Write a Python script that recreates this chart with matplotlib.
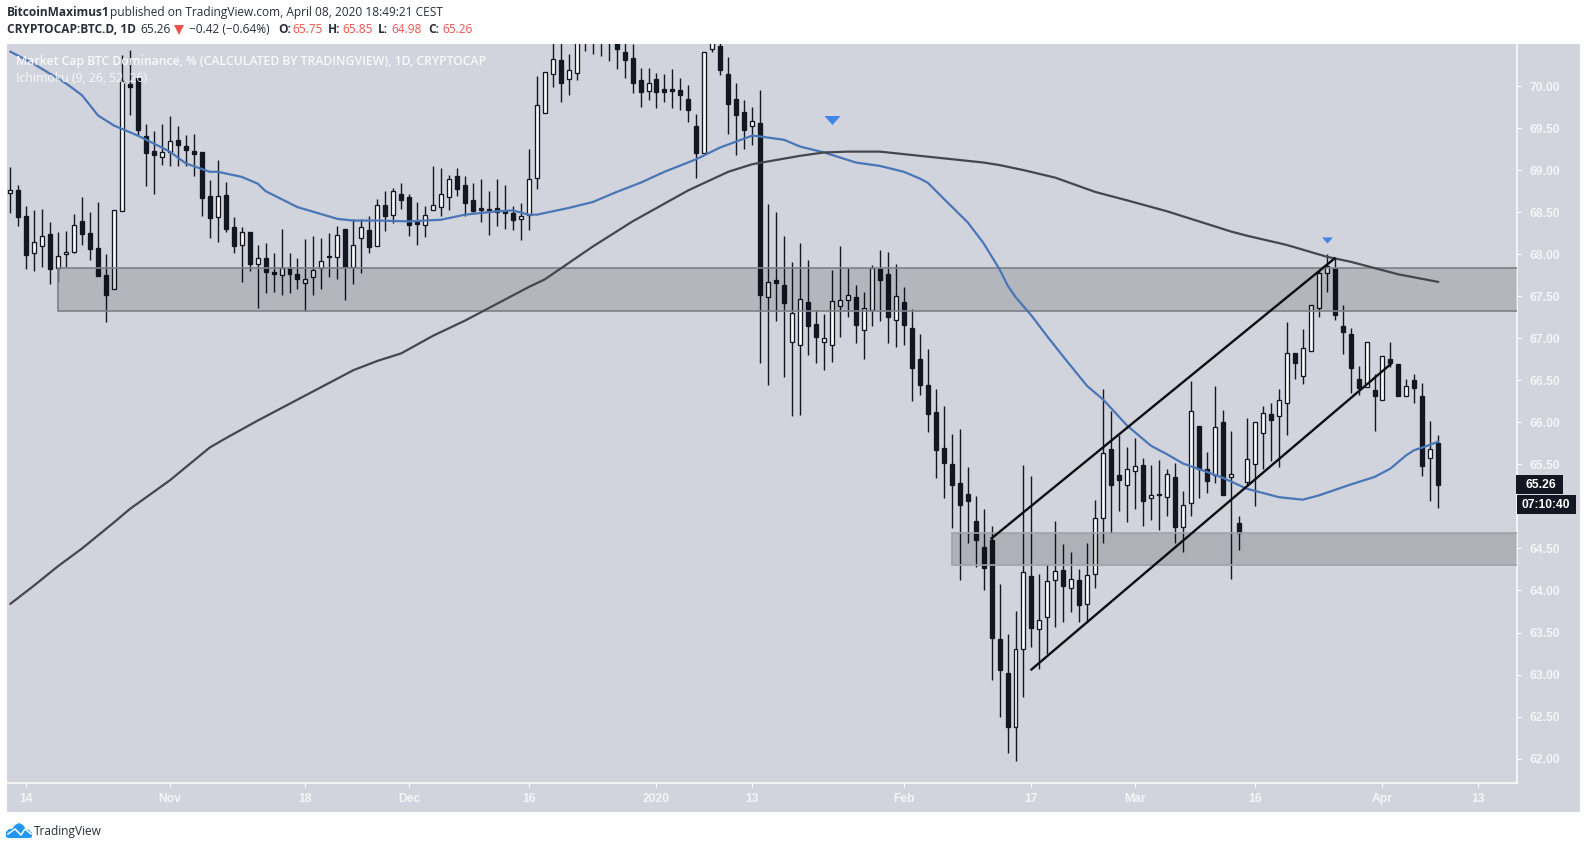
import matplotlib
matplotlib.use("Agg")
import matplotlib.pyplot as plt
import numpy as np
from matplotlib.patches import Rectangle, Polygon

highs = [69.04,68.82,68.57,68.53,68.54,68.38,68.26,68.27,68.48,68.68,
 68.50,68.62,68.00,68.53,70.37,70.43,70.10,69.55,69.46,69.55,
 69.64,69.52,69.42,69.43,69.21,68.88,69.12,68.86,68.44,68.32,
 68.26,68.11,68.13,68.01,68.30,68.02,67.95,68.18,68.22,68.19,
 68.25,68.34,68.30,68.42,68.42,68.46,68.66,68.75,68.79,68.85,
 68.72,68.62,68.57,69.05,69.02,68.94,69.02,68.93,68.85,68.89,
 68.75,68.90,68.82,68.57,68.61,69.25,70.12,70.17,70.60,70.65,
 70.38,70.80,70.90,70.85,70.80,70.80,70.70,70.60,70.50,70.22,
 70.22,70.15,70.14,70.20,70.10,70.01,69.67,70.41,70.65,70.60,
 70.34,70.04,69.83,69.75,69.95,68.60,68.50,68.22,67.91,68.13,
 67.93,67.34,67.29,67.81,68.10,67.84,67.63,67.55,67.87,68.05,
 68.03,67.88,67.61,67.35,67.05,66.87,66.40,66.20,65.86,65.92,
 65.47,65.12,64.97,64.77,64.08,63.48,63.75,65.49,65.36,64.20,
 64.31,64.83,64.55,64.46,64.25,64.57,65.08,66.40,66.14,65.85,
 65.71,65.81,65.58,65.49,65.55,65.45,65.52,65.18,66.49,65.96,
 65.65,66.43,66.15,65.90,64.89,66.05,66.00,66.19,66.23,66.40,
 67.19,66.82,67.11,67.40,67.81,68.00,67.96,67.40,67.12,66.67,
 66.95,66.58,66.79,66.96,66.69,66.52,66.58,66.47,66.01,65.85]
body_tops = [68.76,68.76,68.45,68.14,68.22,68.24,67.98,68.03,68.35,68.39,
 68.25,68.07,67.75,68.53,70.06,70.03,70.09,69.41,69.23,69.22,
 69.35,69.36,69.29,69.23,69.21,68.69,68.69,68.70,68.32,68.26,
 68.26,67.96,67.96,67.79,67.83,67.84,67.76,67.71,67.81,67.92,
 67.98,68.23,68.30,68.11,68.32,68.29,68.58,68.58,68.75,68.72,
 68.68,68.38,68.47,68.58,68.71,68.89,68.93,68.82,68.64,68.55,
 68.54,68.55,68.51,68.49,68.46,68.89,69.78,70.17,70.32,70.31,
 70.19,70.60,70.75,70.70,70.65,70.70,70.60,70.40,70.33,70.07,
 70.04,70.08,69.97,69.96,69.95,69.84,69.52,70.41,70.55,70.48,
 70.14,69.85,69.69,69.58,69.56,67.67,67.69,67.63,67.30,67.47,
 67.43,67.17,67.00,67.44,67.45,67.51,67.49,67.36,67.84,67.82,
 67.76,67.50,67.43,67.12,66.75,66.44,66.12,65.69,65.50,65.28,
 65.15,64.83,64.52,64.60,63.42,63.02,63.30,64.22,64.17,63.65,
 64.11,64.23,64.24,64.14,64.13,64.18,64.86,65.64,65.68,65.37,
 65.45,65.48,65.49,65.13,65.15,65.39,65.35,65.02,66.14,65.96,
 65.45,65.95,66.00,65.38,64.80,65.56,66.00,66.11,66.10,66.27,
 66.82,66.82,66.89,67.40,67.78,67.86,67.84,67.14,67.05,66.52,
 66.95,66.38,66.79,66.75,66.69,66.43,66.50,66.31,65.68,65.75]
body_bottoms = [68.73,68.44,67.99,68.02,68.10,67.82,67.83,68.00,68.03,68.24,
 68.06,67.74,67.52,67.59,68.51,69.99,69.48,69.20,69.18,69.16,
 69.21,69.30,69.24,69.19,68.67,68.43,68.44,68.30,68.10,68.11,
 67.88,67.88,67.79,67.76,67.75,67.77,67.71,67.66,67.73,67.83,
 67.97,67.97,67.85,67.85,68.19,68.09,68.10,68.45,68.47,68.64,
 68.35,68.36,68.35,68.52,68.56,68.68,68.78,68.61,68.51,68.53,
 68.53,68.50,68.49,68.41,68.42,68.47,68.91,69.68,70.14,70.04,
 70.08,70.16,70.60,70.55,70.55,70.55,70.44,70.31,70.04,69.93,
 69.94,69.93,69.93,69.94,69.89,69.71,69.20,69.20,70.44,70.19,
 69.79,69.66,69.48,69.52,67.51,67.49,67.66,67.42,66.95,66.92,
 67.15,67.01,66.96,66.92,67.38,67.46,67.16,67.10,67.34,67.69,
 67.25,67.22,67.16,66.65,66.44,66.10,65.67,65.52,65.26,65.02,
 65.06,64.60,64.27,63.44,63.05,62.38,62.38,63.30,63.55,63.54,
 63.69,64.12,64.05,64.03,63.83,63.84,64.19,64.86,65.26,65.31,
 65.26,65.42,65.07,65.10,65.14,65.11,64.75,64.75,65.04,65.45,
 65.30,65.37,65.13,65.35,64.68,65.29,65.50,65.87,66.03,66.08,
 66.23,66.70,66.55,66.85,67.36,67.78,67.28,67.08,66.65,66.41,
 66.42,66.31,66.27,66.70,66.31,66.31,66.41,65.48,65.58,65.26]
lows = [68.49,68.34,67.82,67.80,67.85,67.65,67.67,67.85,68.02,68.11,
 67.93,67.74,67.19,67.58,68.51,69.66,69.42,68.81,68.72,69.06,
 69.05,69.05,69.05,68.93,68.46,68.19,68.15,68.26,68.01,67.67,
 67.80,67.36,67.54,67.55,67.52,67.54,67.59,67.32,67.52,67.58,
 67.73,67.71,67.46,67.65,67.78,68.02,68.10,68.28,68.37,68.54,
 68.22,68.11,68.20,68.52,68.45,68.53,68.69,68.45,68.50,68.38,
 68.23,68.33,68.30,68.29,68.17,68.29,68.78,69.68,69.99,69.81,
 69.89,70.07,70.42,70.38,70.36,70.30,70.20,70.10,69.92,69.75,
 69.83,69.74,69.81,69.74,69.71,69.57,68.91,69.20,70.40,70.13,
 69.43,69.18,69.25,69.30,66.71,66.44,67.21,66.54,66.07,66.09,
 66.80,66.70,66.62,66.72,67.02,67.25,66.94,66.75,67.15,67.20,
 66.94,66.90,66.92,66.25,66.33,65.88,65.34,65.10,64.74,64.12,
 64.57,64.28,64.01,62.94,62.49,62.07,61.97,62.73,63.33,63.07,
 63.25,63.56,63.63,63.74,63.63,63.63,64.03,64.56,64.68,64.95,
 64.81,64.97,64.77,64.84,64.72,64.88,64.57,64.46,64.89,65.10,
 65.16,65.28,65.13,64.14,64.48,65.24,65.00,65.45,65.54,65.47,
 65.85,66.52,66.45,66.85,67.25,67.55,67.22,66.81,66.35,66.33,
 66.42,65.90,66.27,66.66,66.31,66.31,66.23,65.36,65.06,64.98]
directions = ("wddwwdwwwd" "dddwwddddw" "wdddddwddw" "dwddwddwww" "dwdwwdwdwd"
              "ddwwwwdddd" "ddddwwwwwd" "wwdddwdddd" "wddddddwwd" "dddwdwddww"
              "ddwwwwdwwd" "dwdddddddd" "ddddddwwdw" "wwdwdwwwdd" "wwdwdwdwwd"
              "dwdwdwwwdw" "wdwwwwdddd" "wdwddwddwd")

blue_days = [0,3,7,9,11,13,16,20,22,25,26,29,31,32,36,41,43,46,50,54,57,61,63,65,66,68,70,73,76,79,82,86,89,91,93,94,97,99,102,106,109,112,114,115,117,120,122,124,125,126,128,130,132,135,137,140,142,143,145,147,150,152,155,159,162,164,168,171,173,175,176,177,179]
blue_vals = [70.41,70.26,70.03,69.89,69.65,69.53,69.41,69.22,69.08,68.98,68.98,68.92,68.84,68.75,68.56,68.42,68.40,68.40,68.39,68.41,68.47,68.51,68.52,68.47,68.47,68.51,68.55,68.62,68.74,68.85,68.98,69.13,69.27,69.34,69.41,69.40,69.36,69.28,69.21,69.09,69.05,68.98,68.90,68.85,68.66,68.38,68.13,67.82,67.63,67.49,67.27,67.02,66.78,66.43,66.27,65.96,65.80,65.72,65.62,65.51,65.41,65.34,65.21,65.11,65.08,65.13,65.26,65.35,65.45,65.61,65.67,65.70,65.77]

gray_days = [0,3,6,9,13,15,20,25,27,31,35,38,43,46,49,53,57,61,65,67,69,73,78,85,90,93,96,99,102,105,109,113,119,122,124,127,131,136,140,145,148,153,155,160,165,168,170,174,179]
gray_vals = [63.84,64.06,64.29,64.50,64.81,64.97,65.31,65.70,65.81,66.02,66.22,66.37,66.62,66.73,66.82,67.03,67.21,67.41,67.61,67.70,67.83,68.09,68.39,68.76,68.98,69.07,69.12,69.17,69.21,69.22,69.22,69.18,69.12,69.09,69.06,69.00,68.91,68.74,68.64,68.51,68.42,68.27,68.22,68.11,67.97,67.91,67.86,67.76,67.67]

trend_days = [[123,166],[128,173]]
trend_vals = [[64.62,67.95],[63.06,66.69]]
zone_starts = [6,118]
zone_ranges = [(67.32,67.84),(64.30,64.68)]
zone_edges = ["#7f8188","#a0a2a9"]
zone_alphas = [0.14,0.16]
arrow_days = [103,165]
arrow_vals = [69.60,68.17]
arrow_sizes = [11.5,7.9]

tick_days = [2,20,37,50,65,81,93,112,128,141,156,172,184]
tick_texts = ["14","Nov","18","Dec","16","2020","13","Feb","17","Mar","16","Apr","13"]
price_ticks = [62+0.5*k for k in range(17)]
hidden_price_labels = [65.0]
last_price = 65.26
countdown = "07:10:40"

W,H = 1587,849
BG="#d1d4dc"; DARK="#131722"
fig = plt.figure(figsize=(W/100,H/100),dpi=100,facecolor="white")
back = fig.add_axes([0,0,1,1],zorder=0); back.set_xlim(0,W); back.set_ylim(H,0); back.axis("off")
back.add_patch(Rectangle((7,44),1573,768,facecolor=BG,edgecolor="none"))

ax = fig.add_axes([7/W,(H-783)/H,1510/W,739/H],zorder=1)
ax.patch.set_alpha(0)
ax.set_xlim(-0.41,188.86); ax.set_ylim(61.71,70.5)

x = np.arange(len(highs))
ups = np.array([c=="w" for c in directions])
tops,bots = np.array(body_tops),np.array(body_bottoms)
ax.vlines(x,lows,highs,color=DARK,linewidth=1.0,zorder=2)
ax.bar(x,tops-bots,bottom=bots,width=0.5,
       color=["white" if u else DARK for u in ups],edgecolor=DARK,linewidth=0.95,zorder=2.5)

for s,(lo,hi),ec,al in zip(zone_starts,zone_ranges,zone_edges,zone_alphas):
    ax.add_patch(Rectangle((s,lo),400,hi-lo,facecolor=(0,0,0,al),edgecolor=ec,linewidth=1.2,zorder=3))

ax.plot(blue_days,blue_vals,color="#4a76b8",lw=1.6,zorder=4,solid_capstyle="round")
ax.plot(gray_days,gray_vals,color="#45474d",lw=1.6,zorder=4,solid_capstyle="round")
for d,v in zip(trend_days,trend_vals):
    ax.plot(d,v,color="#0c0d10",lw=1.7,zorder=5)
tri = [(-8,4.5),(8,4.5),(0,-4.5)]
for d,v,s in zip(arrow_days,arrow_vals,arrow_sizes):
    ax.plot([d],[v],marker=tri,ms=s,color="#3f86e8",mec="none",zorder=5)

for side in ("top","left"):
    ax.spines[side].set_visible(False)
for side in ("right","bottom"):
    ax.spines[side].set_color("white"); ax.spines[side].set_linewidth(1.1)
ax.yaxis.tick_right()
lab = dict(fontfamily="Liberation Sans",fontweight="bold",fontsize=8.7,color="#f4f5f7")
ax.set_xticks(tick_days); ax.set_xticklabels(tick_texts,**lab)
ax.set_yticks(price_ticks)
ax.set_yticklabels(["" if p in hidden_price_labels else f"{p:.2f}" for p in price_ticks],**lab)
ax.tick_params(axis="x",length=3,width=0.8,color="white",pad=4.5)
ax.tick_params(axis="y",length=3,width=0.8,color="white",pad=6)

top = fig.add_axes([0,0,1,1],zorder=2); top.set_xlim(0,W); top.set_ylim(H,0); top.axis("off"); top.patch.set_alpha(0)
top.add_patch(Rectangle((1516,475),47,19,facecolor=DARK,edgecolor="none",zorder=1))
top.add_patch(Rectangle((1517,495),59,19,facecolor=DARK,edgecolor="none",zorder=1))
top.text(1521,505,countdown,ha="left",va="center",fontfamily="Liberation Sans",fontsize=8.7,fontweight="bold",color="white",zorder=2)
top.text(1525,485,f"{last_price:.2f}",ha="left",va="center",fontfamily="Liberation Sans",fontsize=8.7,fontweight="bold",color="white",zorder=2)

F="Open Sans"; FS=8.6
top.text(16,61,"Market Cap BTC Dominance, % (CALCULATED BY TRADINGVIEW), 1D, CRYPTOCAP",family=F,fontsize=8.8,fontweight="semibold",color="white",alpha=0.88,va="center")
top.text(16,78,"Ichimoku (9, 26, 52, 26)",family=F,fontsize=8.8,color="white",alpha=0.85,va="center")

top.text(7,12.5,"BitcoinMaximus1",family=F,fontsize=FS,fontweight="bold",color="#2a2e39",va="center")
top.text(110,12.5,"published on TradingView.com, April 08, 2020 18:49:21 CEST",family=F,fontsize=FS,color="#2a2e39",va="center")
RED="#ef5350"
top.text(7,29.5,"CRYPTOCAP:BTC.D, 1D",family=F,fontsize=FS,fontweight="bold",color="#2a2e39",va="center")
top.text(140,29.5,"65.26",family=F,fontsize=FS,color="#2a2e39",va="center")
top.add_patch(Polygon([(174,25),(184,25),(179,35)],closed=True,facecolor=RED,edgecolor="none"))
top.text(189,29.5,"\u22120.42 (\u22120.64%)",family=F,fontsize=FS,color="#2a2e39",va="center")
for px,t in [(278,"O:"),(328,"H:"),(378,"L:"),(428,"C:")]:
    top.text(px,29.5,t,family=F,fontsize=FS,fontweight="bold",color="#2a2e39",va="center")
for px,t in [(292,"65.75"),(342,"65.85"),(391,"64.98"),(442,"65.26")]:
    top.text(px,29.5,t,family=F,fontsize=FS,color=RED,va="center")

cloud = [(6,837),(6,832),(9,829),(12,829),(15,825),(19,823),(23,825),(26,829),(29,830),(32,833),(32,837),(30,838),(8,838)]
top.add_patch(Polygon(cloud,closed=True,facecolor="#2196f3",edgecolor="none"))
top.plot([8,15,21,25,31],[834,829,835,829,834],color="white",lw=1.1)
top.text(34,831,"TradingView",family=F,fontsize=FS,color="#2a2e39",va="center")

fig.savefig("out.png",dpi=100)
